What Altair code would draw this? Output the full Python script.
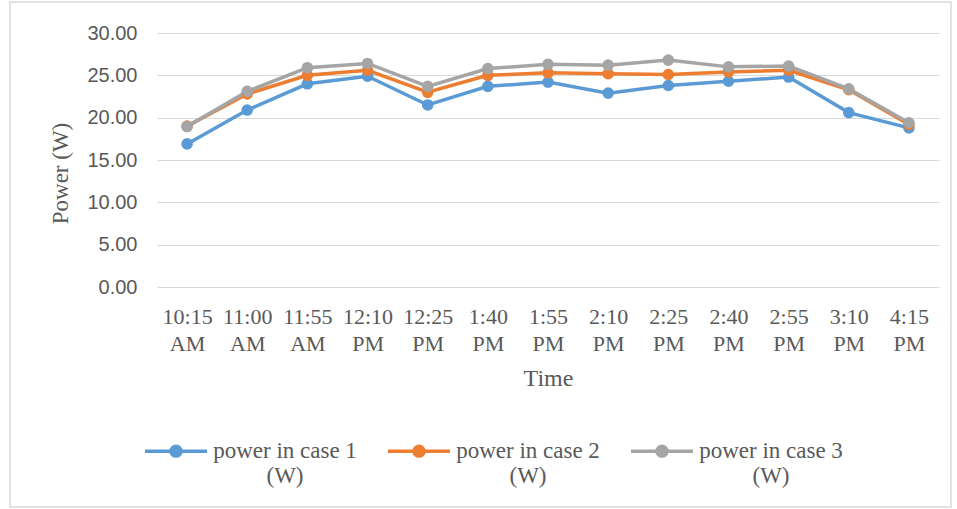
import altair as alt
import pandas as pd

# Sampling times (x categories) and measured power for each case
times = ["10:15 AM", "11:00 AM", "11:55 AM", "12:10 PM", "12:25 PM", "1:40 PM",
         "1:55 PM", "2:10 PM", "2:25 PM", "2:40 PM", "2:55 PM", "3:10 PM", "4:15 PM"]
case1 = [16.9, 20.9, 24.0, 24.9, 21.5, 23.7, 24.2, 22.9, 23.8, 24.3, 24.8, 20.6, 18.8]
case2 = [19.0, 22.8, 25.0, 25.6, 23.0, 25.0, 25.3, 25.2, 25.1, 25.4, 25.6, 23.3, 19.2]
case3 = [18.95, 23.1, 25.9, 26.4, 23.7, 25.8, 26.3, 26.2, 26.8, 26.0, 26.1, 23.4, 19.4]

series_names = ["power in case 1 (W)", "power in case 2 (W)", "power in case 3 (W)"]
series_colors = ["#5B9BD5", "#ED7D31", "#A5A5A5"]
y_ticks = [0, 5, 10, 15, 20, 25, 30]

rows = []
for name, vals in zip(series_names, [case1, case2, case3]):
    for t, v in zip(times, vals):
        rows.append({"Time": t, "Power": v, "Series": name})
df = pd.DataFrame(rows)

SERIF = "Liberation Serif"
SANS = "Liberation Sans"
TEXT = "#595959"

# legend glyph: a line with a filled dot, set level with the first label line
legend_symbol = (
    "M-1,0.36L1,0.36"
    "M-0.16,0.36a0.16,0.16 0 1,0 0.32,0a0.16,0.16 0 1,0 -0.32,0"
    "M-0.08,0.36a0.08,0.08 0 1,0 0.16,0a0.08,0.08 0 1,0 -0.16,0"
)

# two-line legend labels, centred on each other
label_expr = "[replace(datum.label, ' (W)', ''), '(W)']"

color = alt.Color(
    "Series:N",
    scale=alt.Scale(domain=series_names, range=series_colors),
    legend=alt.Legend(
        title=None,
        orient="none",
        legendX=-14,
        legendY=374,
        direction="horizontal",
        columns=3,
        columnPadding=24,
        symbolType=legend_symbol,
        symbolSize=3844,
        symbolStrokeWidth=3.5,
        labelFont=SERIF,
        labelFontSize=23,
        labelColor=TEXT,
        labelLimit=400,
        labelOffset=76,
        labelAlign="center",
        labelExpr=label_expr,
        labelBaseline="top",
    ),
)

x = alt.X(
    "Time:N",
    sort=times,
    scale=alt.Scale(paddingInner=0, paddingOuter=0),
    axis=alt.Axis(
        labelAngle=0,
        labelExpr="split(datum.label, ' ')",
        labelFont=SERIF,
        labelFontSize=22,
        labelColor=TEXT,
        labelLineHeight=27,
        labelPadding=19,
        labelBaseline="top",
        domain=False,
        ticks=False,
        grid=False,
        title="Time",
        titleFont=SERIF,
        titleFontSize=24,
        titleFontWeight="normal",
        titleColor=TEXT,
        titleX=391,
        titleY=91,
        titleBaseline="middle",
    ),
)

y = alt.Y(
    "Power:Q",
    scale=alt.Scale(domain=[0, 30], nice=False),
    axis=alt.Axis(
        values=y_ticks,
        format=".2f",
        labelFont=SANS,
        labelFontSize=20,
        labelColor=TEXT,
        labelPadding=20,
        domain=False,
        ticks=False,
        gridColor="#D9D9D9",
        gridWidth=1.2,
        title="Power (W)",
        titleFont=SERIF,
        titleFontSize=23,
        titleFontWeight="normal",
        titleColor=TEXT,
        titleX=-97,
        titleY=140,
        titleBaseline="middle",
        titleAngle=270,
    ),
)

lines = alt.Chart(df).mark_line(
    strokeWidth=3.5,
    point=alt.OverlayMarkDef(filled=True, size=135, opacity=1),
).encode(x=x, y=y, color=color, order=alt.Order("Series:N"))

# outer frame around the whole figure
frame = alt.Chart(pd.DataFrame({"f": [0]})).mark_rect(
    fill=None, stroke="#D9D9D9", strokeWidth=1.5
).encode(
    x=alt.value(-147), x2=alt.value(794),
    y=alt.value(-31), y2=alt.value(474),
)

chart = alt.layer(frame, lines).properties(
    width=782,
    height=254,
    padding={"left": 157, "top": 33, "right": 18, "bottom": 222},
    autosize=alt.AutoSizeParams(type="none"),
    background="white",
).configure_view(stroke=None)

chart.save("out.html", embed_options={"renderer": "svg", "actions": False})
